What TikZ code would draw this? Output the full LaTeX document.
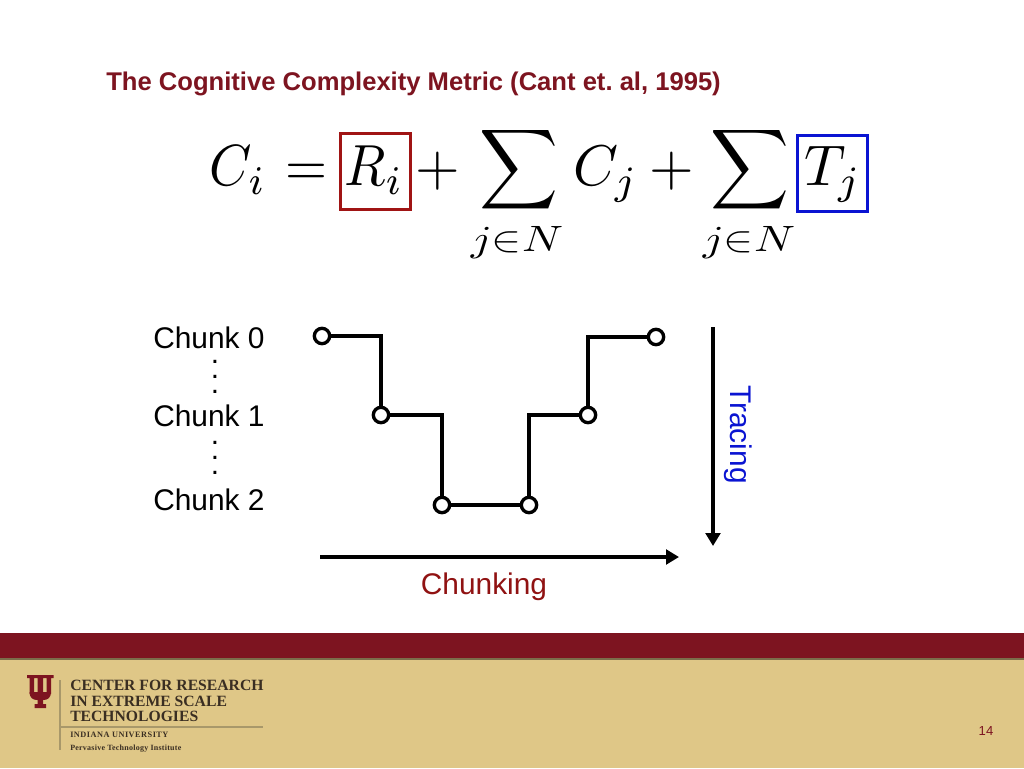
\documentclass[tikz,border=0pt]{standalone}
\usepackage{fontspec}
\usepackage{graphicx}
\setmainfont{Liberation Sans}
\newfontfamily\logofont{Liberation Serif}
\usetikzlibrary{arrows.meta}
\definecolor{iucrim}{HTML}{7D1420}
\definecolor{iugold}{HTML}{DFC787}
\definecolor{boxred}{HTML}{A01414}
\definecolor{boxblue}{HTML}{0A14D2}
\definecolor{logotxt}{HTML}{3A2E22}
\definecolor{logoline}{HTML}{A8986A}
\tikzset{
  x=0.75pt,y=-0.75pt,
  lbl/.style={inner sep=0pt,font=\fontsize{22.4pt}{26pt}\selectfont},
  dotlbl/.style={inner sep=0pt,align=center,font=\fontsize{22.4pt}{11.25pt}\selectfont},
  eq/.style={inner sep=0pt,anchor=base},
  pathline/.style={line width=3pt,black},
  mark node/.style={circle,draw=black,fill=white,line width=2.5pt,minimum size=11.5pt,inner sep=0pt},
  axisarrow/.style={line width=2.5pt,black,-{Triangle[length=9.75pt,width=11pt]}},
  logoa/.style={inner sep=0pt,anchor=base west,text=logotxt,font=\logofont\bfseries\fontsize{11.75pt}{13pt}\selectfont},
  rulebox/.style={line width=2.2pt,minimum width=52.5pt,minimum height=57pt,inner sep=0pt},
}
\newcommand{\eqm}[1]{\scalebox{4.3}{$#1$}}
\newcommand{\eqn}[1]{\scalebox{4.05}[4.35]{$#1$}}
\newcommand{\bigsum}{\scalebox{4.1}[4.2]{$\displaystyle\sum$}}
\newcommand{\limtext}{\scalebox{3.38}[2.75]{$j{\in}N$}}
\begin{document}
\begin{tikzpicture}
\frenchspacing
\useasboundingbox (0,0) rectangle (1024,768);
\fill[white] (0,0) rectangle (1024,768);
\fill[iugold] (0,658) rectangle (1024,768);
\fill[iucrim] (0,633) rectangle (1024,658);
\fill[black!45!iugold] (0,658) rectangle (1024,659.5);
% title
\node[inner sep=0pt,anchor=base west,text=iucrim,font=\bfseries\fontsize{19.2pt}{22pt}\selectfont] (title) at (106,90) {The Cognitive Complexity Metric (Cant et. al, 1995)};
% equation
\node[eq] (ci) at (238,185.5) {\eqn{C_i}};
\node[eq] (eqsign) at (306,185.5) {\eqn{=}};
\node[eq] (ri) at (374,185.5) {\eqn{R_i}};
\node[eq] (p1) at (438,185.5) {\eqm{+}};
\node[inner sep=0pt] (s1) at (519,170) {\bigsum};
\node[eq] (nj1) at (517,251) {\limtext};
\node[eq] (cj) at (606,185.5) {\eqm{C_j}};
\node[eq] (p2) at (672,185.5) {\eqm{+}};
\node[inner sep=0pt] (s2) at (749.5,170) {\bigsum};
\node[eq] (nj2) at (749,251) {\limtext};
\node[eq] (tj) at (833,185.5) {\eqm{T_j}};
\node[draw=boxred,rulebox] (rbox) at (375.5,171.5) {};
\node[draw=boxblue,rulebox] (tbox) at (832.5,173.5) {};
% chunk labels
\node[lbl,anchor=base west] (c0) at (153,348) {Chunk 0};
\node[lbl,anchor=base west] (c1) at (153,426) {Chunk 1};
\node[lbl,anchor=base west] (c2) at (153,510) {Chunk 2};
\node[dotlbl] (d1) at (215,376.7) {.\\.\\.};
\node[dotlbl] (d2) at (215,458.2) {.\\.\\.};
% trace
\draw[pathline] (322,336) coordinate (a0) -- (381,336) -- (381,415) coordinate (a1) -- (442,415) -- (442,505) coordinate (a2) -- (529,505) coordinate (a3) -- (529,415) -- (588,415) coordinate (a4) -- (588,337) -- (656,337) coordinate (a5);
\node[mark node] (m0) at (a0) {};
\node[mark node] (m1) at (a1) {};
\node[mark node] (m2) at (a2) {};
\node[mark node] (m3) at (a3) {};
\node[mark node] (m4) at (a4) {};
\node[mark node] (m5) at (a5) {};
% axes
\coordinate (ta) at (713,327);
\coordinate (tb) at (713,546);
\coordinate (ca) at (320,557);
\coordinate (cb) at (679,557);
\draw[axisarrow] (ta) -- (tb);
\draw[axisarrow] (ca) -- (cb);
\node[lbl,text=boxblue,rotate=-90] (tr) at (738,434.5) {Tracing};
\node[lbl,text=boxred!90!black,anchor=base] (ch) at (484,594) {Chunking};
% logo
\fill[iucrim]
  (37.5,675) rectangle (43,704)
  (35,675) rectangle (45.5,678)
  (34.5,704) rectangle (46,708)
  (29.5,675) rectangle (34,694)
  (27,675) rectangle (36,678)
  (46.5,675) rectangle (51,694)
  (44.5,675) rectangle (53.5,678);
\fill[iucrim] (29.5,692) .. controls (29.5,698) and (33,700) .. (37.5,700) -- (43,700) .. controls (47.5,700) and (51,698) .. (51,692) -- cycle;
\draw[logoline,line width=0.8pt] (60,680) -- (60,750);
\draw[logoline,line width=0.8pt] (60,727) -- (263,727);
\node[logoa] (l1) at (70,690) {CENTER FOR RESEARCH};
\node[logoa] (l2) at (70,706) {IN EXTREME SCALE};
\node[logoa] (l3) at (70,721.5) {TECHNOLOGIES};
\node[inner sep=0pt,anchor=base west,text=logotxt,font=\logofont\bfseries\fontsize{6.2pt}{8pt}\selectfont] (l4) at (70,737.5) {\addfontfeature{LetterSpace=6}INDIANA UNIVERSITY};
\node[inner sep=0pt,anchor=base west,text=logotxt,font=\logofont\bfseries\fontsize{6pt}{8pt}\selectfont] (l5) at (70,750) {\addfontfeature{LetterSpace=3}Pervasive Technology Institute};
\node[inner sep=0pt,text=iucrim,font=\fontsize{9.8pt}{12pt}\selectfont] (pg) at (986,731) {14};
\end{tikzpicture}
\end{document}
